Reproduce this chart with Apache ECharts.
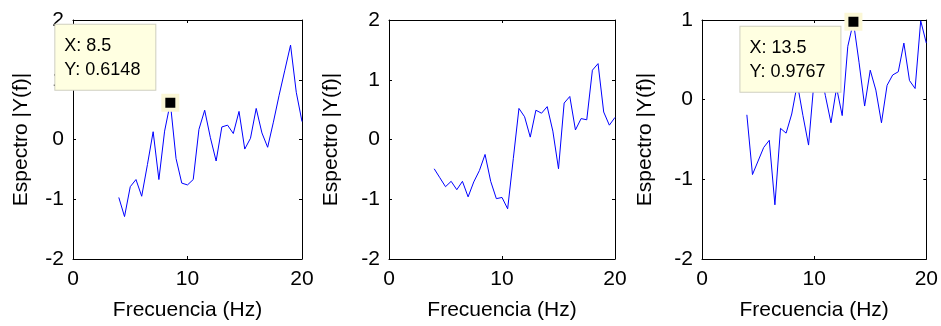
<!DOCTYPE html>
<html>
<head>
<meta charset="utf-8">
<script src="https://cdn.jsdelivr.net/npm/echarts@6/dist/echarts.min.js"></script>
<style>
html,body{margin:0;padding:0;background:#fff;}
#c{width:941px;height:326px;}
</style>
</head>
<body>
<div id="c"></div>
<script>
// ---- data ----
const freq = [4,4.5,5,5.5,6,6.5,7,7.5,8,8.5,9,9.5,10,10.5,11,11.5,12,12.5,13,13.5,14,14.5,15,15.5,16,16.5,17,17.5,18,18.5,19,19.5,20];
const spec1 = [-0.97,-1.29,-0.79,-0.67,-0.95,-0.42,0.13,-0.67,0.14,0.6148,-0.32,-0.73,-0.76,-0.67,0.17,0.49,0.03,-0.36,0.21,0.24,0.10,0.47,-0.16,0.02,0.52,0.11,-0.13,0.29,0.74,1.16,1.58,0.79,0.30];
const spec2 = [-0.49,-0.64,-0.79,-0.70,-0.84,-0.70,-0.96,-0.71,-0.52,-0.25,-0.70,-0.99,-0.97,-1.16,-0.32,0.52,0.38,0.04,0.49,0.44,0.55,0.14,-0.49,0.61,0.72,0.16,0.35,0.33,1.16,1.27,0.46,0.24,0.37];
const spec3 = [-0.19,-0.94,-0.77,-0.60,-0.51,-1.32,-0.36,-0.42,-0.18,0.20,-0.20,-0.57,0.25,0.40,0.05,-0.29,0.15,-0.20,0.67,0.9767,0.47,-0.08,0.37,0.12,-0.29,0.18,0.31,0.35,0.71,0.24,0.14,0.99,0.71];
const tip1 = [8.5, 0.6148];
const tip3 = [13.5, 0.9767];
const xTicks = [0, 10, 20];
const yRange12 = [-2, 2];
const yRange3 = [-2, 1];
const xLabel = 'Frecuencia (Hz)';
const yLabel = 'Espectro |Y(f)|';

// ---- layout ----
const FONT = '"Liberation Sans", Arial, sans-serif';
const grids = [
  {left: 73, top: 20, width: 229, height: 245},
  {left: 389, top: 20, width: 226, height: 245},
  {left: 702, top: 20, width: 226, height: 245}
];
const yRanges = [yRange12, yRange12, yRange3];
const yNameGaps = [41, 47, 46];
const specs = [spec1, spec2, spec3];

const tickStyle = {show: true, inside: true, length: 3, lineStyle: {color: '#000', width: 1}};
const lineStyle = {show: true, onZero: false, lineStyle: {color: '#000', width: 1}};
const labelStyle = {color: '#000', fontSize: 21, fontFamily: FONT};

const xAxis = [], yAxis = [], series = [];
grids.forEach((g, i) => {
  xAxis.push({
    gridIndex: i, type: 'value', min: xTicks[0], max: xTicks[xTicks.length - 1], interval: xTicks[1] - xTicks[0],
    position: 'bottom', axisLine: lineStyle, axisTick: tickStyle, splitLine: {show: false},
    axisLabel: Object.assign({margin: 10}, labelStyle),
    name: xLabel, nameLocation: 'middle', nameGap: 41,
    nameTextStyle: {color: '#000', fontSize: 21, fontFamily: FONT}
  });
  xAxis.push({
    gridIndex: i, type: 'value', min: xTicks[0], max: xTicks[xTicks.length - 1], interval: xTicks[1] - xTicks[0],
    position: 'top', axisLine: lineStyle, axisTick: tickStyle, splitLine: {show: false},
    axisLabel: {show: false}
  });
  yAxis.push({
    gridIndex: i, type: 'value', min: yRanges[i][0], max: yRanges[i][1], interval: 1,
    position: 'left', axisLine: lineStyle, axisTick: tickStyle, splitLine: {show: false},
    axisLabel: Object.assign({margin: 9}, labelStyle),
    name: yLabel, nameLocation: 'middle', nameGap: yNameGaps[i], nameRotate: 90,
    nameTextStyle: {color: '#000', fontSize: 21, fontFamily: FONT}
  });
  yAxis.push({
    gridIndex: i, type: 'value', min: yRanges[i][0], max: yRanges[i][1], interval: 1,
    position: 'right', axisLine: lineStyle, axisTick: tickStyle, splitLine: {show: false},
    axisLabel: {show: false}
  });
  series.push({
    type: 'line', xAxisIndex: i * 2, yAxisIndex: i * 2,
    data: freq.map((f, k) => [f, specs[i][k]]),
    symbol: 'none', lineStyle: {color: '#0000ff', width: 1}, animation: false, z: 3
  });
});

function tipSeries(idx, pt, labelPos, vAlign) {
  return {
    type: 'scatter', xAxisIndex: idx * 2, yAxisIndex: idx * 2, clip: false, animation: false, z: 10,
    data: [pt],
    symbol: 'rect', symbolSize: 14,
    itemStyle: {color: '#000', opacity: 1, borderColor: '#fbf7d6', borderWidth: 4},
    label: {
      show: true, position: labelPos, align: 'left', verticalAlign: vAlign,
      width: 77, overflow: 'none',
      formatter: p => 'X: ' + p.value[0] + '\nY: ' + p.value[1],
      color: '#000', fontSize: 18, fontFamily: FONT, lineHeight: 24,
      backgroundColor: '#ffffe1', borderColor: '#cfcfc0', borderWidth: 1,
      padding: [9, 14, 8, 9]
    },
    emphasis: {disabled: true}
  };
}
series.push(tipSeries(0, tip1, [-106, -4], 'bottom'));
series.push(tipSeries(2, tip3, [-104, 14], 'top'));

const chart = echarts.init(document.getElementById('c'), null, {renderer: 'canvas'});
chart.setOption({
  animation: false,
  backgroundColor: '#fff',
  grid: grids.map(g => Object.assign({containLabel: false}, g)),
  xAxis, yAxis, series
});
</script>
</body>
</html>
